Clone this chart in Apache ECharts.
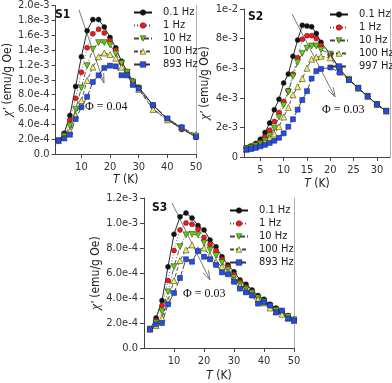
<!DOCTYPE html>
<html>
<head>
<meta charset="utf-8">
<script src="https://cdn.jsdelivr.net/npm/echarts@6/dist/echarts.min.js"></script>
<style>
  html, body { margin: 0; padding: 0; background: #fff; }
  #chart { width: 392px; height: 383px; }
</style>
</head>
<body>
<div id="chart"></div>
<script>
  // temperatures (K)
  const tS1 = [2, 4, 6, 8, 10, 12, 14, 16, 18, 20, 22, 24, 26, 28, 30, 35, 40, 45, 50]
  const tS2 = [2, 3, 4, 5, 6, 7, 8, 9, 10, 11, 12, 13, 14, 15, 16, 17, 18, 20, 22, 24, 26, 28, 30, 32]
  const tS3 = [2, 4, 6, 8, 10, 12, 14, 16, 18, 20, 22, 24, 26, 28, 30, 32, 34, 36, 38, 40, 42, 44, 46, 48, 50]

  // legend names
  const freqS1 = ['0.1 Hz', '1 Hz', '10 Hz', '100 Hz', '893 Hz']
  const freqS2 = ['0.1 Hz', '1 Hz', '10 Hz', '100 Hz', '997 Hz']
  const freqS3 = ['0.1 Hz', '1 Hz', '10 Hz', '100 Hz', '893 Hz']

  // chi' values, in units of 1e-3 emu/g Oe
  const s1Hz01 = [0.18, 0.28, 0.52, 0.91, 1.31, 1.66, 1.81, 1.81, 1.71, 1.57, 1.43, 1.25, 1.11, 0.98, 0.90, 0.66, 0.47, 0.34, 0.23]
  const s1Hz1 = [0.18, 0.26, 0.46, 0.75, 1.10, 1.43, 1.62, 1.68, 1.63, 1.53, 1.40, 1.24, 1.10, 0.98, 0.88, 0.65, 0.46, 0.33, 0.23]
  const s1Hz10 = [0.18, 0.24, 0.38, 0.60, 0.89, 1.19, 1.41, 1.50, 1.50, 1.47, 1.35, 1.22, 1.10, 0.97, 0.88, 0.61, 0.46, 0.34, 0.24]
  const s1Hz100 = [0.18, 0.22, 0.31, 0.52, 0.72, 0.99, 1.17, 1.31, 1.36, 1.34, 1.29, 1.17, 1.07, 0.96, 0.87, 0.60, 0.46, 0.36, 0.26]
  const s1Hz893 = [0.18, 0.21, 0.26, 0.47, 0.63, 0.77, 0.97, 1.06, 1.16, 1.19, 1.18, 1.06, 1.06, 0.93, 0.88, 0.66, 0.48, 0.36, 0.23]

  const s2Hz01 = [0.62, 0.75, 0.92, 1.20, 1.65, 2.30, 3.20, 3.90, 5.00, 5.60, 6.80, 7.90, 8.90, 8.85, 8.80, 8.35, 7.75, 6.95, 5.95, 5.25, 4.65, 4.10, 3.55, 3.10]
  const s2Hz1 = [0.58, 0.68, 0.82, 1.00, 1.35, 1.80, 2.40, 3.00, 3.75, 4.50, 5.60, 6.70, 7.95, 8.20, 8.20, 8.00, 7.55, 6.90, 5.90, 5.25, 4.65, 4.10, 3.55, 3.10]
  const s2Hz10 = [0.55, 0.64, 0.76, 0.90, 1.10, 1.45, 1.95, 2.70, 3.50, 4.40, 5.45, 6.40, 7.00, 7.35, 7.50, 7.50, 7.25, 6.95, 5.90, 5.25, 4.65, 4.10, 3.55, 3.10]
  const s2Hz100 = [0.52, 0.60, 0.70, 0.85, 1.00, 1.25, 1.55, 2.05, 2.70, 3.35, 4.20, 4.75, 5.30, 6.00, 6.60, 6.75, 6.80, 6.70, 5.85, 5.25, 4.65, 4.10, 3.55, 3.10]
  const s2Hz997 = [0.50, 0.55, 0.62, 0.72, 0.82, 0.95, 1.10, 1.30, 1.60, 2.05, 2.55, 3.20, 3.85, 4.45, 5.30, 5.80, 5.95, 6.05, 5.70, 5.20, 4.65, 4.10, 3.55, 3.10]

  const s3Hz01 = [0.15, 0.24, 0.38, 0.65, 0.91, 1.05, 1.08, 1.04, 0.98, 0.945, 0.865, 0.81, 0.73, 0.665, 0.61, 0.545, 0.51, 0.465, 0.42, 0.39, 0.35, 0.32, 0.29, 0.26, 0.23]
  const s3Hz1 = [0.15, 0.22, 0.34, 0.54, 0.78, 0.945, 1.00, 0.99, 0.95, 0.885, 0.83, 0.78, 0.71, 0.65, 0.59, 0.53, 0.49, 0.45, 0.41, 0.375, 0.34, 0.31, 0.28, 0.255, 0.225]
  const s3Hz10 = [0.15, 0.20, 0.29, 0.45, 0.65, 0.81, 0.905, 0.91, 0.905, 0.84, 0.785, 0.74, 0.685, 0.625, 0.565, 0.51, 0.47, 0.44, 0.40, 0.37, 0.335, 0.30, 0.27, 0.25, 0.225]
  const s3Hz100 = [0.15, 0.18, 0.24, 0.38, 0.54, 0.70, 0.785, 0.825, 0.785, 0.80, 0.74, 0.69, 0.65, 0.605, 0.545, 0.50, 0.46, 0.43, 0.39, 0.36, 0.32, 0.29, 0.27, 0.24, 0.22]
  const s3Hz893 = [0.15, 0.19, 0.20, 0.35, 0.44, 0.56, 0.71, 0.69, 0.775, 0.73, 0.71, 0.665, 0.605, 0.59, 0.53, 0.475, 0.445, 0.42, 0.355, 0.365, 0.34, 0.285, 0.30, 0.235, 0.22]

  // x tick labels
  const ticksS1 = [10, 20, 30, 40, 50]
  const ticksS2 = [5, 10, 15, 20, 25, 30]
  const ticksS3 = [10, 20, 30, 40, 50]

  const NARROW = "'Liberation Sans Narrow', 'DejaVu Sans Condensed', 'Liberation Sans', sans-serif"
  const SERIF = "'Liberation Serif', 'DejaVu Serif', serif"

  // marker / line look per frequency (same order in all panels)
  const looks = [
    { color: '#111111', symbol: 'circle', size: 5, rot: 0, dash: 'solid', line: '#111' },
    { color: '#ff1414', symbol: 'circle', size: 5, rot: 0, dash: [1, 2], line: '#555' },
    { color: '#5fd400', symbol: 'triangle', size: 6, rot: 180, dash: [5, 2, 1, 2], line: '#444' },
    { color: '#f0f05a', symbol: 'triangle', size: 6, rot: 0, dash: [4, 2], line: '#444' },
    { color: '#1f4cf5', symbol: 'rect', size: 5, rot: 0, dash: [7, 2], line: '#333' }
  ]

  const panels = [
    { t: tS1, names: freqS1, vals: [s1Hz01, s1Hz1, s1Hz10, s1Hz100, s1Hz893] },
    { t: tS2, names: freqS2, vals: [s2Hz01, s2Hz1, s2Hz10, s2Hz100, s2Hz997] },
    { t: tS3, names: freqS3, vals: [s3Hz01, s3Hz1, s3Hz10, s3Hz100, s3Hz893] }
  ]

  const fmt1 = v => v === 0 ? '0.0' : (v * 1e-3).toExponential(1)
  const fmt0 = v => v === 0 ? '0' : (v * 1e-3).toExponential(0)

  const grids = [
    { left: 50, top: 5, width: 146, height: 149 },
    { left: 244, top: 9, width: 146, height: 148 },
    { left: 144, top: 198, width: 150, height: 150 }
  ]

  const xName = {
    name: '{i|T} (K)',
    nameLocation: 'middle',
    nameGap: 20,
    nameTextStyle: {
      fontFamily: NARROW, fontSize: 12, color: '#222',
      rich: { i: { fontStyle: 'italic', fontFamily: NARROW, fontSize: 12, color: '#222' } }
    }
  }
  const yNameStyle = {
    fontFamily: NARROW, fontSize: 12, color: '#222',
    rich: { i: { fontStyle: 'italic', fontFamily: SERIF, fontSize: 13, color: '#222' } }
  }
  const axisBase = {
    axisLine: { show: true, lineStyle: { color: '#444', width: 1 } },
    axisTick: { show: true, length: 4, lineStyle: { color: '#444' } },
    splitLine: { show: false },
    axisLabel: { fontFamily: NARROW, fontSize: 11, color: '#333' }
  }

  const xAxes = [
    Object.assign({}, axisBase, xName, {
      gridIndex: 0, type: 'value', min: 1, max: 50,
      axisTick: Object.assign({}, axisBase.axisTick, { customValues: ticksS1 }),
      axisLabel: Object.assign({}, axisBase.axisLabel, { customValues: ticksS1 })
    }),
    Object.assign({}, axisBase, xName, {
      gridIndex: 1, type: 'value', min: 1.5, max: 32.8, nameGap: 21,
      axisTick: Object.assign({}, axisBase.axisTick, { customValues: ticksS2 }),
      axisLabel: Object.assign({}, axisBase.axisLabel, { customValues: ticksS2 })
    }),
    Object.assign({}, axisBase, xName, {
      gridIndex: 2, type: 'value', min: 0, max: 50, nameGap: 22,
      axisTick: Object.assign({}, axisBase.axisTick, { customValues: ticksS3 }),
      axisLabel: Object.assign({}, axisBase.axisLabel, { customValues: ticksS3 })
    })
  ]

  const yLeft = (g, max, interval, fmt, gap) => Object.assign({}, axisBase, {
    gridIndex: g, type: 'value', min: 0, max: max, interval: interval,
    name: "{i|χ'} (emu/g Oe)", nameLocation: 'middle', nameGap: gap, nameRotate: 90,
    nameTextStyle: yNameStyle,
    axisLabel: Object.assign({}, axisBase.axisLabel, { formatter: fmt, margin: 6 })
  })
  const yRight = g => ({
    gridIndex: g, type: 'value', position: 'right', min: 0, max: 1,
    axisLine: { show: true, lineStyle: { color: '#b0b0b0', width: 1 } },
    axisTick: { show: false }, axisLabel: { show: false }, splitLine: { show: false }
  })

  const yAxes = [
    yLeft(0, 2.0, 0.2, fmt1, 32), yRight(0),
    yLeft(1, 10, 2, fmt0, 33), yRight(1),
    yLeft(2, 1.2, 0.2, fmt1, 28), yRight(2)
  ]

  const series = []
  panels.forEach((p, g) => {
    p.vals.forEach((vals, k) => {
      const lk = looks[k]
      series.push({
        name: p.names[k],
        type: 'line',
        xAxisIndex: g,
        yAxisIndex: g * 2,
        data: p.t.map((t, i) => [t, vals[i]]),
        symbol: lk.symbol,
        symbolSize: lk.size,
        symbolRotate: lk.rot,
        showAllSymbol: true,
        itemStyle: { color: lk.color, borderColor: '#222', borderWidth: 0.5 },
        lineStyle: { color: lk.line, width: 0.9, type: lk.dash },
        emphasis: { disabled: true }
      })
    })
  })

  const legendAt = (names, left, top) => ({
    data: names,
    orient: 'vertical',
    left: left,
    top: top,
    padding: 0,
    itemWidth: 18,
    itemHeight: 7,
    itemGap: 0,
    itemStyle: { borderWidth: 0.5 },
    textStyle: { fontFamily: NARROW, fontSize: 11, color: '#222', lineHeight: 13, padding: [0, 0, 0, 6] }
  })

  const titleAt = (text, left, top) => ({
    text: text, left: left, top: top, padding: 0,
    textStyle: { fontFamily: NARROW, fontSize: 12, fontWeight: 'bold', color: '#111' }
  })

  // open-headed annotation arrow
  function arrow(x1, y1, x2, y2) {
    const ang = Math.atan2(y2 - y1, x2 - x1)
    const len = 10
    const spread = 0.3
    const a1 = ang + Math.PI - spread
    const a2 = ang + Math.PI + spread
    return {
      type: 'group',
      children: [
        { type: 'line', shape: { x1: x1, y1: y1, x2: x2, y2: y2 }, style: { stroke: '#7a7a7a', lineWidth: 1 } },
        {
          type: 'polyline',
          shape: { points: [[x2 + len * Math.cos(a1), y2 + len * Math.sin(a1)], [x2, y2], [x2 + len * Math.cos(a2), y2 + len * Math.sin(a2)]] },
          style: { stroke: '#7a7a7a', lineWidth: 1, fill: null }
        }
      ]
    }
  }
  const phiText = (text, x, y) => ({
    type: 'text',
    style: { text: text, x: x, y: y, font: '12px ' + SERIF, fill: '#111', verticalAlign: 'middle' }
  })

  const chart = echarts.init(document.getElementById('chart'))
  chart.setOption({
    backgroundColor: '#fff',
    animation: false,
    title: [titleAt('S1', 55, 9), titleAt('S2', 248, 11), titleAt('S3', 152, 202)],
    legend: [legendAt(freqS1, 133, 6), legendAt(freqS2, 329, 8), legendAt(freqS3, 229, 204)],
    grid: grids,
    xAxis: xAxes,
    yAxis: yAxes,
    series: series,
    graphic: [
      arrow(79, 10, 104, 83),
      arrow(292, 14, 335, 97),
      arrow(172, 203, 210, 280),
      phiText('Φ = 0.04', 85, 107),
      phiText('Φ = 0.03', 322, 110),
      phiText('Φ = 0.03', 183, 294)
    ]
  })
</script>
</body>
</html>
